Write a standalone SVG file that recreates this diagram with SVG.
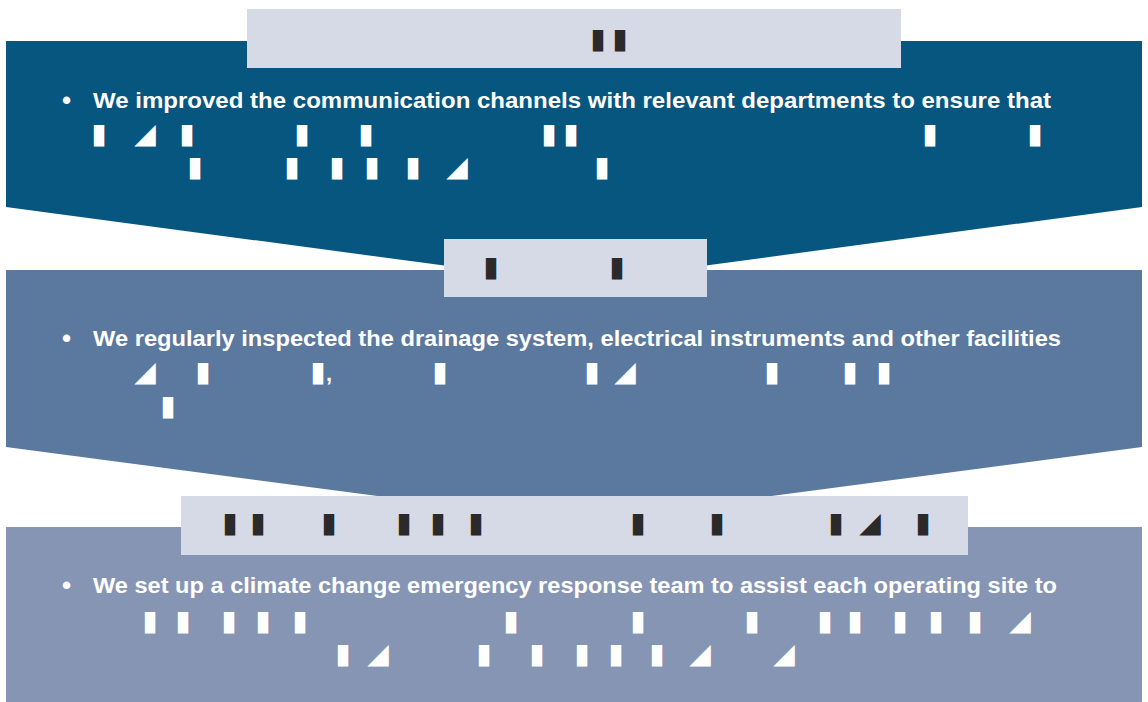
<svg xmlns="http://www.w3.org/2000/svg" width="1148" height="702" viewBox="0 0 1148 702">
<style>
.hd{fill:#d6d9e6}
.t{font-family:"Liberation Sans",Arial,sans-serif;font-weight:bold;font-size:22px;fill:#ffffff}
.b{font-family:"Liberation Sans",Arial,sans-serif;font-weight:bold;font-size:26px;fill:#ffffff}
.g{font-family:"DejaVu Sans",sans-serif;font-size:28px;text-anchor:middle}
.gw{fill:#ffffff}
.gd{fill:#2a2a2a}
</style>
<rect width="1148" height="702" fill="#ffffff"/>
<g id="band1">
<polygon points="6,41 1142,41 1142,207 575,283 6,207" fill="#06567f"/>
<text class="b" x="62" y="109">•</text>
<text class="t" x="93" y="108" textLength="958" lengthAdjust="spacingAndGlyphs">We improved the communication channels with relevant departments to ensure that</text>
<g class="g gw">
<text x="99" y="143">▮</text><text x="145" y="143">◢</text><text x="187" y="143">▮</text><text x="302" y="143">▮</text><text x="366" y="143">▮</text><text x="549" y="143">▮</text><text x="571" y="143">▮</text><text x="930" y="143">▮</text><text x="1035" y="143">▮</text>
<text x="195" y="176">▮</text><text x="292" y="176">▮</text><text x="337" y="176">▮</text><text x="372" y="176">▮</text><text x="413" y="176">▮</text><text x="457" y="176">◢</text><text x="602" y="176">▮</text>
</g>
</g>
<g id="band2">
<polygon points="6,270 1142,270 1142,447 575,522 6,447" fill="#5b789e"/>
<text class="b" x="62" y="347">•</text>
<text class="t" x="93" y="346" textLength="968" lengthAdjust="spacingAndGlyphs">We regularly inspected the drainage system, electrical instruments and other facilities</text>
<g class="g gw">
<text x="145" y="381">◢</text><text x="203" y="381">▮</text><text x="318" y="381">▮</text><text x="440" y="381">▮</text><text x="592" y="381">▮</text><text x="625" y="381">◢</text><text x="772" y="381">▮</text><text x="850" y="381">▮</text><text x="884" y="381">▮</text>
<text x="168" y="415">▮</text>
</g>
<text class="t" x="326" y="381">,</text>
</g>
<g id="band3">
<rect x="6" y="527" width="1136" height="175" fill="#8795b5"/>
<text class="b" x="62" y="594">•</text>
<text class="t" x="93" y="593" textLength="964" lengthAdjust="spacingAndGlyphs">We set up a climate change emergency response team to assist each operating site to</text>
<g class="g gw">
<text x="150" y="630">▮</text><text x="183" y="630">▮</text><text x="229" y="630">▮</text><text x="263" y="630">▮</text><text x="300" y="630">▮</text><text x="511" y="630">▮</text><text x="638" y="630">▮</text><text x="752" y="630">▮</text><text x="825" y="630">▮</text><text x="855" y="630">▮</text><text x="900" y="630">▮</text><text x="936" y="630">▮</text><text x="975" y="630">▮</text><text x="1020" y="630">◢</text>
<text x="343" y="663">▮</text><text x="378" y="663">◢</text><text x="484" y="663">▮</text><text x="537" y="663">▮</text><text x="582" y="663">▮</text><text x="616" y="663">▮</text><text x="657" y="663">▮</text><text x="700" y="663">◢</text><text x="784" y="663">◢</text>
</g>
</g>
<g id="title1">
<rect class="hd" x="247" y="9" width="654" height="59"/>
<g class="g gd"><text x="598" y="48">▮</text><text x="620" y="48">▮</text></g>
</g>
<g id="title2">
<rect class="hd" x="444" y="239" width="263" height="58"/>
<g class="g gd"><text x="491" y="276">▮</text><text x="617" y="276">▮</text></g>
</g>
<g id="title3">
<rect class="hd" x="181" y="496" width="787" height="59"/>
<g class="g gd"><text x="230" y="532">▮</text><text x="258" y="532">▮</text><text x="329" y="532">▮</text><text x="404" y="532">▮</text><text x="438" y="532">▮</text><text x="476" y="532">▮</text><text x="638" y="532">▮</text><text x="717" y="532">▮</text><text x="836" y="532">▮</text><text x="870" y="532">◢</text><text x="923" y="532">▮</text></g>
</g>
</svg>
